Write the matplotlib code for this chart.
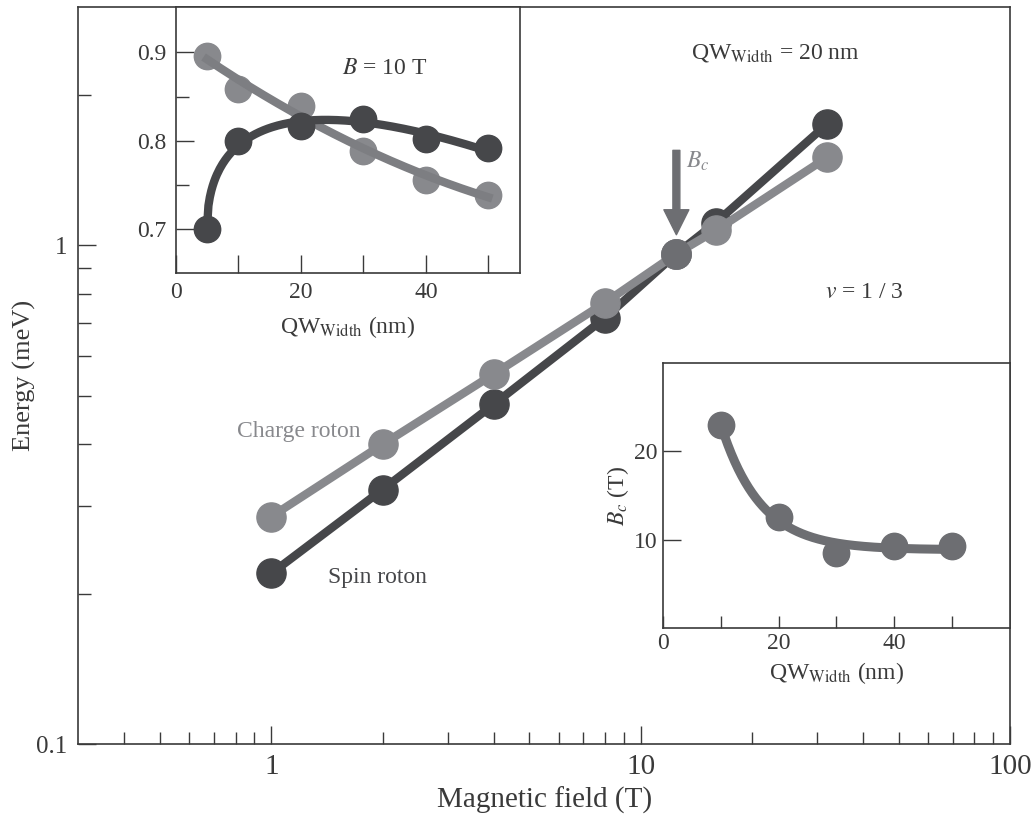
import numpy as np
import matplotlib
matplotlib.use('Agg')
import matplotlib.pyplot as plt
from matplotlib.ticker import FixedLocator, NullFormatter

plt.rcParams['font.family'] = ['Liberation Serif', 'DejaVu Serif']
plt.rcParams['mathtext.fontset'] = 'stix'

DARK = '#46474a'
GRAY = '#88898d'
GRAY_LINE = '#7d7e82'
MID = '#6d6e72'
INK = '#3a3a3a'

# main panel: roton energies vs magnetic field (QW width 20 nm)
field_T = [1, 2, 4, 8, 12.5, 16, 32]
spin_roton = [0.220, 0.324, 0.480, 0.715, 0.962, 1.111, 1.75]
charge_roton = [0.286, 0.399, 0.552, 0.767, 0.962, 1.072, 1.50]
bc_point = (12.5, 0.962)

# inset 1: energies at B = 10 T vs well width
width_10T = np.array([5, 10, 20, 30, 40, 50])
charge_10T = np.array([0.896, 0.859, 0.839, 0.789, 0.756, 0.739])
spin_10T = np.array([0.700, 0.800, 0.817, 0.825, 0.802, 0.792])

# inset 2: critical field vs well width
width_bc = np.array([10, 20, 30, 40, 50])
bc_vs_width = np.array([23.0, 12.6, 8.5, 9.3, 9.3])

fig = plt.figure(figsize=(10.32, 8.16), dpi=100)

# ---- main axes
ax = fig.add_axes([0.0759, 0.0879, 0.9026, 0.9032])
ax.set_xscale('log')
ax.set_yscale('log')
ax.plot(field_T, spin_roton, '-o', color=DARK, lw=6, ms=21, zorder=2)
ax.plot(field_T, charge_roton, '-o', color=GRAY, lw=6, ms=21, zorder=3)
ax.plot([bc_point[0]], [bc_point[1]], 'o', color=MID, ms=21, zorder=4)
ax.set_xlim(0.3, 100)
ax.set_ylim(0.1, 3)

ax.set_xticks([1, 10, 100])
ax.set_xticklabels(['1', '10', '100'])
ax.xaxis.set_minor_locator(FixedLocator([0.4, 0.5, 0.6, 0.7, 0.8, 0.9,
                                         2, 3, 4, 5, 6, 7, 8, 9,
                                         20, 30, 40, 50, 60, 70, 80, 90]))
ax.set_yticks([0.1, 1])
ax.set_yticklabels(['0.1', '1'])
ax.yaxis.set_minor_locator(FixedLocator([0.2, 0.3, 0.4, 0.5, 0.6, 0.7, 0.8, 0.9, 2]))
ax.xaxis.set_minor_formatter(NullFormatter())
ax.yaxis.set_minor_formatter(NullFormatter())
ax.tick_params(which='major', direction='in', length=13, width=1, colors=INK)
ax.tick_params(which='minor', direction='in', length=9, width=1, colors=INK)
ax.tick_params(axis='x', which='major', labelsize=21, pad=7)
ax.tick_params(axis='y', which='major', labelsize=18, pad=8)
for s in ax.spines.values():
    s.set_color(INK)
    s.set_linewidth(1.2)
ax.set_xlabel('Magnetic field (T)', fontsize=21, color=INK)
ax.set_ylabel('Energy (meV)', fontsize=19, color=INK)
ax.xaxis.set_label_coords(0.5, -0.057)
ax.yaxis.set_label_coords(-0.045, 0.5)

ax.text(299 / 1032, 1 - 431 / 816, 'Charge roton', transform=fig.transFigure,
        fontsize=17, color=GRAY, ha='center', va='center')
ax.text(377 / 1032, 1 - 577 / 816, 'Spin roton', transform=fig.transFigure,
        fontsize=17, color=DARK, ha='center', va='center')
ax.text(775 / 1032, 1 - 53 / 816, r'QW$_{\mathrm{Width}}$ = 20 nm', transform=fig.transFigure,
        fontsize=17, color=INK, ha='center', va='center')
ax.text(864 / 1032, 1 - 293 / 816, r'$v$ = 1 / 3', transform=fig.transFigure,
        fontsize=17, color=INK, ha='center', va='center')

ax.annotate('', xy=(bc_point[0], 1.05), xytext=(bc_point[0], 1.55),
            arrowprops=dict(width=5, headwidth=18, headlength=18, color=MID, shrink=0))
ax.text(13.3, 1.47, r'$B_c$', fontsize=17, color=GRAY, ha='left', va='center')

# ---- inset 1
ax1 = fig.add_axes([0.1703, 0.6658, 0.3332, 0.3253])
xs = np.linspace(width_10T[0], width_10T[-1], 200)
A = np.column_stack([np.ones_like(width_10T, float), np.sqrt(width_10T - 5.0), width_10T])
coef = np.linalg.lstsq(A, spin_10T, rcond=None)[0]
spin_fit = coef[0] + coef[1] * np.sqrt(xs - 5.0) + coef[2] * xs
charge_fit = np.polyval(np.polyfit(width_10T, charge_10T, 2), xs)
ax1.plot(width_10T, charge_10T, 'o', color=GRAY, ms=19, zorder=2)
ax1.plot(xs, charge_fit, color=GRAY_LINE, lw=6, zorder=3)
ax1.plot(width_10T, spin_10T, 'o', color=DARK, ms=19, zorder=4)
ax1.plot(xs, spin_fit, color=DARK, lw=6, zorder=4)
ax1.set_xlim(0, 55)
ax1.set_ylim(0.651, 0.951)
ax1.set_xticks([0, 10, 20, 30, 40, 50])
ax1.set_xticklabels(['0', '', '20', '', '40', ''])
ax1.set_yticks([0.7, 0.8, 0.9])
ax1.set_yticklabels(['0.7', '0.8', '0.9'])
ax1.yaxis.set_minor_locator(FixedLocator([0.75, 0.85]))
ax1.tick_params(which='major', direction='in', length=13, width=1, labelsize=17,
                colors=INK, pad=7)
ax1.tick_params(which='minor', direction='in', length=9, width=1, colors=INK)
for s in ax1.spines.values():
    s.set_color(INK)
    s.set_linewidth(1.2)
ax1.set_xlabel(r'QW$_{\mathrm{Width}}$ (nm)', fontsize=17, color=INK, labelpad=8)
ax1.text(385 / 1032, 1 - 68 / 816, r'$B$ = 10 T', transform=fig.transFigure,
         fontsize=17, color=INK, ha='center', va='center')

# ---- inset 2
ax2 = fig.add_axes([0.6424, 0.2308, 0.3363, 0.324])
best = None
for tau in np.linspace(2, 20, 361):
    B = np.column_stack([np.ones(len(width_bc)), np.exp(-width_bc / tau)])
    c = np.linalg.lstsq(B, bc_vs_width, rcond=None)[0]
    r = np.sum((B @ c - bc_vs_width) ** 2)
    if best is None or r < best[0]:
        best = (r, tau, c)
_, tau, c = best
xs2 = np.linspace(width_bc[0], width_bc[-1], 200)
ax2.plot(xs2, c[0] + c[1] * np.exp(-xs2 / tau), color=MID, lw=6.5)
ax2.plot(width_bc, bc_vs_width, 'o', color=MID, ms=19)
ax2.set_xlim(0, 60)
ax2.set_ylim(0, 30)
ax2.set_xticks([0, 10, 20, 30, 40, 50])
ax2.set_xticklabels(['0', '', '20', '', '40', ''])
ax2.set_yticks([10, 20])
ax2.set_yticklabels(['10', '20'])
ax2.tick_params(axis='x', direction='in', length=9, width=1, labelsize=17, colors=INK, pad=4)
ax2.tick_params(axis='y', direction='in', length=13, width=1, labelsize=17, colors=INK, pad=4)
for s in ax2.spines.values():
    s.set_color(INK)
    s.set_linewidth(1.2)
ax2.set_xlabel(r'QW$_{\mathrm{Width}}$ (nm)', fontsize=17, color=INK, labelpad=4)
ax2.set_ylabel(r'$B_c$ (T)', fontsize=17, color=INK, labelpad=2)

fig.savefig('out.png', dpi=100)
